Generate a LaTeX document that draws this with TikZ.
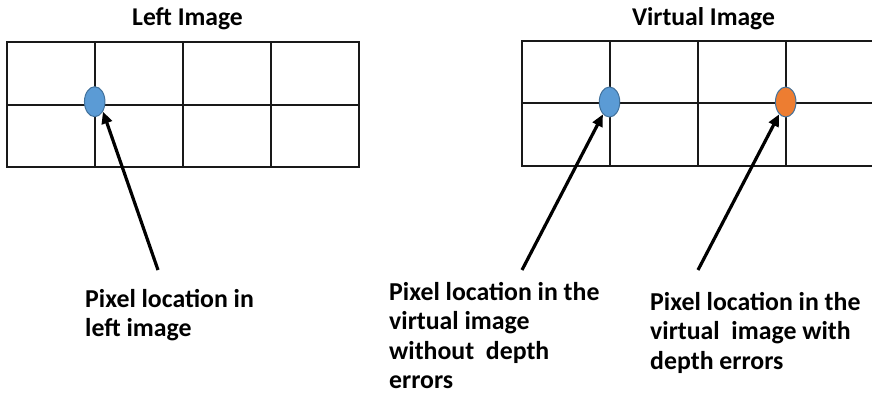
\documentclass[tikz,border=0pt]{standalone}
\usepackage{fontspec}
\setmainfont{Carlito}
\usetikzlibrary{arrows.meta}
\definecolor{pixblue}{HTML}{5B9BD5}
\definecolor{pixorange}{HTML}{ED7D31}
\definecolor{pixedge}{HTML}{41719C}
\newcommand\linestack[1]{\vtop{\baselineskip=29.5pt\halign{##\hfil\cr#1\crcr}}}
\tikzset{
  gridline/.style={line width=2pt, draw=black!90},
  pixel/.style={ellipse, minimum width=20.5pt, minimum height=30pt, inner sep=0pt, line width=1pt, draw=pixedge},
  pointer/.style={line width=3.2pt, -{Triangle[length=12pt,width=10.5pt]}},
  title/.style={anchor=base, inner sep=0pt, font=\bfseries\fontsize{25.6}{30}\selectfont},
  caption/.style={anchor=base west, inner sep=0pt, font=\bfseries\fontsize{25.8}{30}\selectfont},
}
\usetikzlibrary{shapes.geometric}
\begin{document}
\begin{tikzpicture}[x=1pt,y=-1pt]
\useasboundingbox (0,0) rectangle (872,395);
\clip (0,0) rectangle (872,395);

% left image grid: 4 x 2 cells
\draw[gridline] (7,42) rectangle (359,167);
\draw[gridline] (7,105) -- (359,105);
\foreach \x in {95,183,271} \draw[gridline] (\x,42) -- (\x,167);

% virtual image grid, running past the right edge
\draw[gridline] (522,41) rectangle (874,166);
\draw[gridline] (522,103.5) -- (874,103.5);
\foreach \x in {610,698,786} \draw[gridline] (\x,41) -- (\x,166);

% titles
\node[title] (tl) at (187.5,26) {Left Image};
\node[title] (tv) at (703.5,26) {Virtual Image};

% pixel locations
\node[pixel, fill=pixblue] (pl) at (94.7,101.7) {};
\node[pixel, fill=pixblue] (pv) at (609.5,102) {};
\node[pixel, fill=pixorange] (pe) at (785.7,102) {};

% arrow tails
\coordinate (al) at (158,270);
\coordinate (av) at (522,270);
\coordinate (ae) at (698,270);

\draw[pointer] (al) -- (pl.-50);
\draw[pointer] (av) -- (pv.-118);
\draw[pointer] (ae) -- (pe.-118);

% captions
\node[caption] (cl) at (85,307) {\linestack{Pixel location in\cr left image}};
\node[caption] (cv) at (389,300) {\linestack{Pixel location in the\cr virtual image\cr without\ \ depth\cr errors}};
\node[caption] (ce) at (650,310) {\linestack{Pixel location in the\cr virtual\ \ image with\cr depth errors}};
\end{tikzpicture}
\end{document}
